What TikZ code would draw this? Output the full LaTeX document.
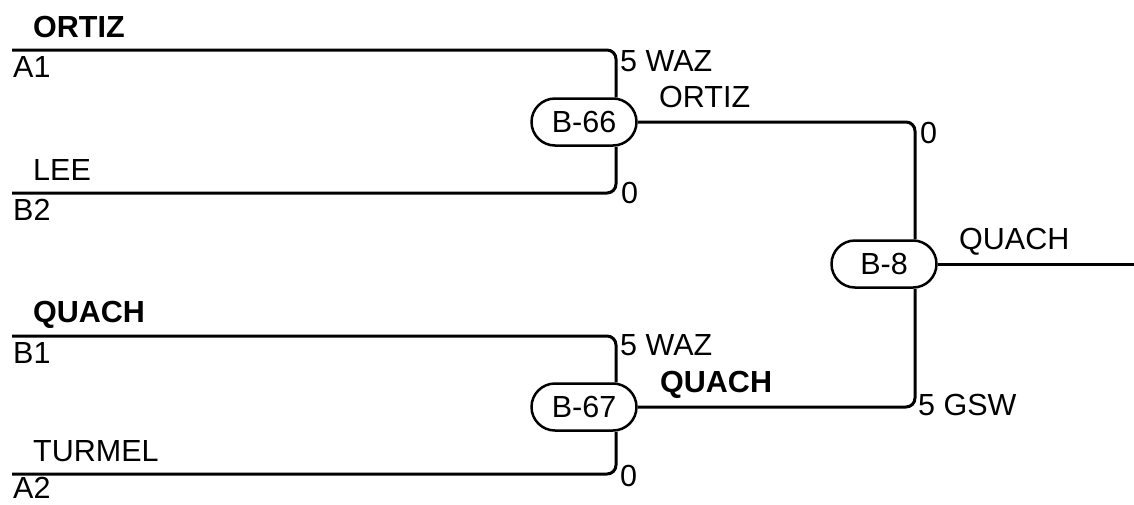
\documentclass[tikz,border=0pt]{standalone}
\usepackage{fontspec}
\setmainfont{Liberation Sans}
\usetikzlibrary{shapes.misc}
\begin{document}
\begin{tikzpicture}[x=1pt, y=-1pt,
      every node/.style={font=\fontsize{30.5}{36}\selectfont, inner sep=0pt},
      gm/.style={rounded rectangle, draw, line width=2.5pt,
                 minimum width=105pt, minimum height=47pt},
      nm/.style={anchor=base west},
      wn/.style={anchor=base west, font=\fontsize{30.5}{36}\selectfont\bfseries},
      ln/.style={line width=3pt, rounded corners=9pt}
    ]
    \useasboundingbox (0,0) rectangle (1134,504);
    % games
    \node[gm] (b66) at (584,122) {B-66};
    \node[gm] (b67) at (584,407) {B-67};
    \node[gm] (b8) at (884,264) {B-8};
    % line ends and corners
    \coordinate (s1) at (12,50);   \coordinate (k1) at (616,50);
    \coordinate (s2) at (12,193);  \coordinate (k2) at (616,193);
    \coordinate (s3) at (12,336);  \coordinate (k3) at (616,336);
    \coordinate (s4) at (12,474);  \coordinate (k4) at (616,474);
    \coordinate (k5) at (915,122); \coordinate (k6) at (915,407);
    \coordinate (e8) at (1134,264);
    % entries: first round
    \node[wn] (n1) at (33,37) {ORTIZ};
    \node[nm] (t1) at (13,77) {A1};
    \node[nm] (n2) at (33,180) {LEE};
    \node[nm] (t2) at (13,220) {B2};
    \node[wn] (n3) at (33,322) {QUACH};
    \node[nm] (t3) at (13,363) {B1};
    \node[nm] (n4) at (33,461) {TURMEL};
    \node[nm] (t4) at (13,498) {A2};
    % scores
    \node[nm] (p1) at (620,71) {5 WAZ};
    \node[nm] (p2) at (621,203) {0};
    \node[nm] (p3) at (620,355) {5 WAZ};
    \node[nm] (p4) at (620,486) {0};
    \node[nm] (p5) at (920,143) {0};
    \node[nm] (p6) at (918,415) {5 GSW};
    % winners
    \node[nm] (w1) at (659,107) {ORTIZ};
    \node[wn] (w2) at (660,392) {QUACH};
    \node[nm] (w3) at (959,249) {QUACH};
    % lines
    \draw[ln] (s1) -- (k1) -- (b66.north -| k1);
    \draw[ln] (s2) -- (k2) -- (b66.south -| k2);
    \draw[ln] (s3) -- (k3) -- (b67.north -| k3);
    \draw[ln] (s4) -- (k4) -- (b67.south -| k4);
    \draw[ln] (b66.east) -- (k5) -- (b8.north -| k5);
    \draw[ln] (b67.east) -- (k6) -- (b8.south -| k6);
    \draw[ln] (b8.east) -- (e8);
  \end{tikzpicture}
\end{document}
